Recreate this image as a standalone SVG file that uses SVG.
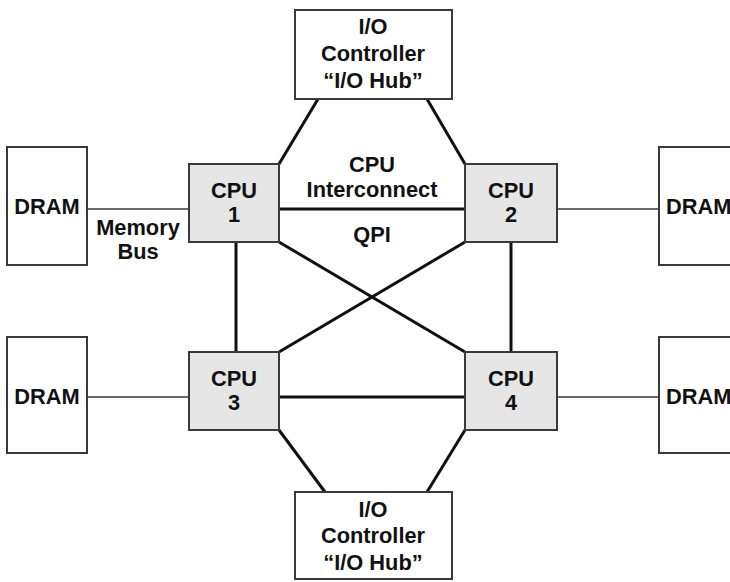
<svg xmlns="http://www.w3.org/2000/svg" width="730" height="582" viewBox="0 0 730 582">
<style>
.box{fill:#ffffff;stroke:#3a3a3a;stroke-width:2}
.cpu{fill:#e6e6e6;stroke:#3a3a3a;stroke-width:2}
.t{font-family:"Liberation Sans",Arial,sans-serif;font-weight:bold;font-size:21.8px;fill:#111;text-anchor:middle}
.tl{font-family:"Liberation Sans",Arial,sans-serif;font-weight:bold;font-size:21.8px;fill:#111}
.bus{stroke:#3a3a3a;stroke-width:1.6;fill:none}
.qpi{stroke:#111;stroke-width:3;fill:none}
</style>
<rect width="730" height="582" fill="#ffffff"/>
<g id="connectors">
<line class="bus" x1="87" y1="209" x2="189" y2="209"/>
<line class="bus" x1="557" y1="209" x2="659" y2="209"/>
<line class="bus" x1="87" y1="397" x2="189" y2="397"/>
<line class="bus" x1="557" y1="397" x2="659" y2="397"/>
<line class="qpi" x1="318" y1="99" x2="279" y2="164"/>
<line class="qpi" x1="427" y1="99" x2="465" y2="164"/>
<line class="qpi" x1="279" y1="209" x2="465" y2="209"/>
<line class="qpi" x1="279" y1="242" x2="465" y2="352"/>
<line class="qpi" x1="465" y1="242" x2="279" y2="352"/>
<line class="qpi" x1="236" y1="242" x2="236" y2="352"/>
<line class="qpi" x1="511" y1="242" x2="511" y2="352"/>
<line class="qpi" x1="279" y1="397" x2="465" y2="397"/>
<line class="qpi" x1="279" y1="430" x2="325" y2="492"/>
<line class="qpi" x1="465" y1="430" x2="427" y2="492"/>
</g>
<g id="labels">
<text class="t" x="138" y="235">Memory</text>
<text class="t" x="138" y="259">Bus</text>
<text class="t" x="372" y="172">CPU</text>
<text class="t" x="372" y="197">Interconnect</text>
<text class="t" x="372" y="242">QPI</text>
</g>
<g id="io-top">
<rect class="box" x="295" y="10" width="157" height="89"/>
<text class="t" x="373" y="34">I/O</text>
<text class="t" x="373" y="61">Controller</text>
<text class="t" x="373" y="88">“I/O Hub”</text>
</g>
<g id="io-bottom">
<rect class="box" x="295" y="492" width="157" height="87"/>
<text class="t" x="373" y="517">I/O</text>
<text class="t" x="373" y="543">Controller</text>
<text class="t" x="373" y="570">“I/O Hub”</text>
</g>
<g id="dram-1">
<rect class="box" x="7" y="147" width="80" height="118"/>
<text class="t" x="47" y="214">DRAM</text>
</g>
<g id="dram-2">
<rect class="box" x="659" y="147" width="90" height="118"/>
<text class="tl" x="666" y="214">DRAM</text>
</g>
<g id="dram-3">
<rect class="box" x="7" y="337" width="80" height="116"/>
<text class="t" x="47" y="404">DRAM</text>
</g>
<g id="dram-4">
<rect class="box" x="659" y="337" width="90" height="116"/>
<text class="tl" x="666" y="404">DRAM</text>
</g>
<g id="cpu-1">
<rect class="cpu" x="189" y="164" width="90" height="78"/>
<text class="t" x="234" y="198">CPU</text>
<text class="t" x="234" y="222">1</text>
</g>
<g id="cpu-2">
<rect class="cpu" x="465" y="164" width="92" height="78"/>
<text class="t" x="511" y="198">CPU</text>
<text class="t" x="511" y="222">2</text>
</g>
<g id="cpu-3">
<rect class="cpu" x="189" y="352" width="90" height="78"/>
<text class="t" x="234" y="386">CPU</text>
<text class="t" x="234" y="410">3</text>
</g>
<g id="cpu-4">
<rect class="cpu" x="465" y="352" width="92" height="78"/>
<text class="t" x="511" y="386">CPU</text>
<text class="t" x="511" y="410">4</text>
</g>
</svg>
